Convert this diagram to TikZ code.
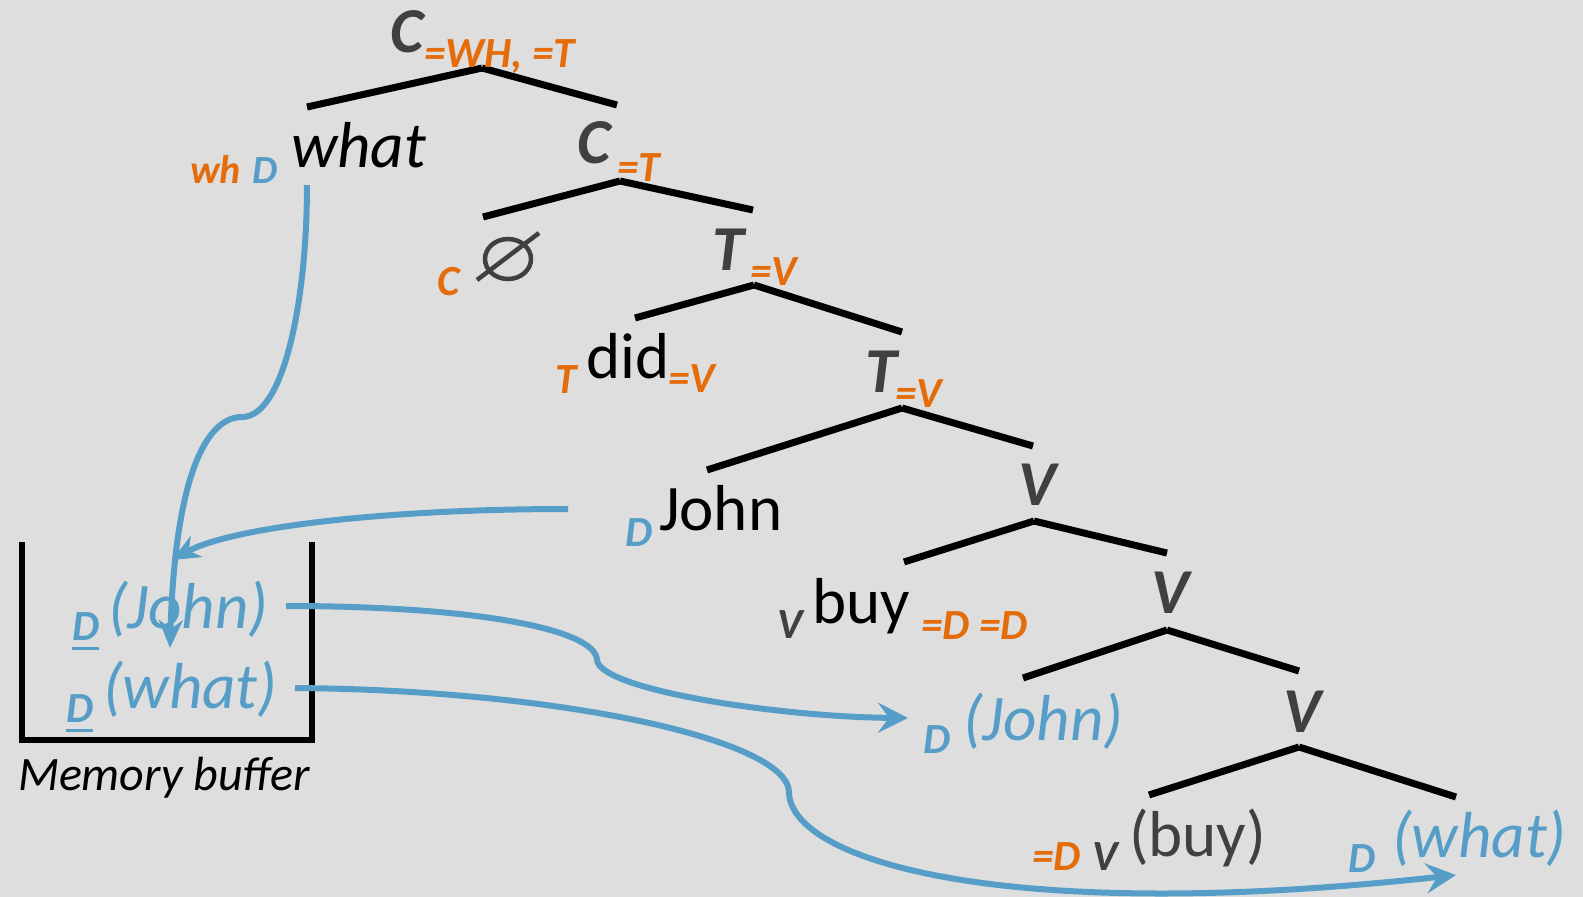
\documentclass[tikz,border=0pt]{standalone}
\usepackage{fontspec}
\setmainfont{Carlito}
\usetikzlibrary{arrows.meta}
\definecolor{bgc}{HTML}{DEDEDE}
\definecolor{gry}{HTML}{404040}
\definecolor{org}{HTML}{E46C0A}
\definecolor{blu}{HTML}{569EC7}
\newcommand{\ulD}{{\setbox0\hbox{D}\rlap{\rule[-10pt]{\wd0}{3.5pt}}D}}
\begin{document}
\begin{tikzpicture}[x=1pt,y=-1pt,
  txt/.style={inner sep=0pt, outer sep=0pt, anchor=base west},
  cat/.style={txt, text=gry, font=\fontsize{64}{70}\selectfont\bfseries\itshape},
  feat/.style={txt, text=org, font=\fontsize{43}{48}\selectfont\bfseries\itshape},
  featb/.style={txt, text=blu, font=\fontsize{43}{48}\selectfont\bfseries\itshape},
  featg/.style={txt, text=gry, font=\fontsize{43}{48}\selectfont\bfseries\itshape},
  word/.style={txt, text=black, font=\fontsize{65}{70}\selectfont},
  wordi/.style={txt, text=black, font=\fontsize{65}{70}\selectfont\itshape},
  trace/.style={txt, text=blu, font=\fontsize{65}{70}\selectfont\itshape},
  br/.style={line width=7pt, black},
  mv/.style={line width=6pt, blu, -{Stealth[length=30pt, width=30pt, inset=11pt]}},
  mvs/.style={line width=6pt, blu, -{Stealth[length=28pt, width=24pt, inset=9pt]}}
]
\useasboundingbox[fill=bgc] (0,0) rectangle (1583,897);

% ---- tree branch points
\coordinate (a1) at (482,68);  \coordinate (l1) at (307,107);  \coordinate (r1) at (617,105);
\coordinate (a2) at (620,181); \coordinate (l2) at (483,217);  \coordinate (r2) at (753,210);
\coordinate (a3) at (754,285); \coordinate (l3) at (635,318);  \coordinate (r3) at (902,332);
\coordinate (a4) at (902,408); \coordinate (l4) at (707,470);  \coordinate (r4) at (1033,446);
\coordinate (a5) at (1034,521);\coordinate (l5) at (904,562);  \coordinate (r5) at (1167,553);
\coordinate (a6) at (1167,630);\coordinate (l6) at (1023,678); \coordinate (r6) at (1299,671);
\coordinate (a7) at (1299,747);\coordinate (l7) at (1149,795); \coordinate (r7) at (1456,797);
\foreach \i in {1,...,7}{
  \draw[br] (a\i) -- (l\i);
  \draw[br] (a\i) -- (r\i);
}

% ---- labels
\node[cat]  (c1)   at (390,52)  {C};
\node[feat] (c1f)  at (424,67)  {=WH, =T};
\node[txt, font=\fontsize{40}{44}\selectfont\bfseries\itshape] (whd) at (190,183) {\textcolor{org}{wh}\hspace{12pt}\textcolor{blu}{D}};
\node[wordi] (what) at (291,167) {what};

\node[cat]  (c2)   at (577,163) {C};
\node[feat] (c2f)  at (617,181) {=T};
\node[feat] (cc)   at (437,295) {C};
\draw[gry, line width=4.5pt] (508,259) ellipse [x radius=23pt, y radius=20pt];
\draw[gry, line width=4.5pt] (477,280) -- (539,233);

\node[cat]  (t1)   at (712,270) {T};
\node[feat] (t1f)  at (750,285) {=V};
\node[feat] (tt)   at (555,393) {T};
\node[word] (did)  at (586,378) {did};
\node[feat] (didf) at (668,392) {=V};

\node[cat]  (t2)   at (865,392) {T};
\node[feat] (t2f)  at (895,407) {=V};
\node[featb](jd)   at (625,546) {D};
\node[word] (john) at (659,530) {John};

\node[cat]  (v1)   at (1018,505) {V};
\node[featg](vv)   at (777,638) {V};
\node[word] (buy)  at (812,623) {buy};
\node[feat] (buyf) at (921,639) {=D =D};

\node[cat]  (v2)   at (1151,613) {V};
\node[featb](jd2)  at (923,753) {D};
\node[trace](john2) at (963,740) {(John)};

\node[cat]  (v3)   at (1283,732) {V};
\node[feat] (bf2)  at (1032,870) {=D};
\node[featg](vv2)  at (1092,870) {V};
\node[txt, text=gry, font=\fontsize{65}{70}\selectfont] (buy2) at (1129,856) {(buy)};
\node[featb](wd2)  at (1348,872) {D};
\node[trace](what2) at (1392,857) {(what)};

% ---- memory buffer
\coordinate (m1) at (22,542); \coordinate (m2) at (22,740);
\coordinate (m3) at (312,740); \coordinate (m4) at (312,542);
\draw[line width=5.5pt, black] (m1) -- (m2) -- (m3) -- (m4);
\node[featb] (bd1) at (72,640) {\ulD};
\node[trace] (bj)  at (108,628) {(John)};
\node[featb] (bd2) at (66,722) {\ulD};
\node[trace] (bw)  at (103,708) {(what)};
\node[txt, text=black, font=\fontsize{48}{52}\selectfont\itshape] (mem) at (18,790) {Memory buffer};

% ---- movement arrows
\coordinate (s1) at (307,185);   \coordinate (k1) at (242,417);  \coordinate (e1) at (170,648);
\coordinate (s2) at (568,509);   \coordinate (e2) at (172,560);
\coordinate (s3) at (286,606);   \coordinate (k3) at (597,660);  \coordinate (e3) at (908,718);
\coordinate (s4) at (295,688);   \coordinate (k4) at (789,792);  \coordinate (e4) at (1456,875);

\draw[mvs] (s1) .. controls (307,300) and (284,417) .. (k1)
                .. controls (205,417) and (175,480) .. (e1);
\draw[mvs] (s2) .. controls (380,509) and (230,528) .. (e2);
\draw[mv] (s3) .. controls (480,606) and (596,630) .. (k3)
               .. controls (600,690) and (780,717) .. (e3);
\draw[mv] (s4) .. controls (560,690) and (788,740) .. (k4)
               .. controls (790,860) and (1000,925) .. (e4);
\end{tikzpicture}
\end{document}
